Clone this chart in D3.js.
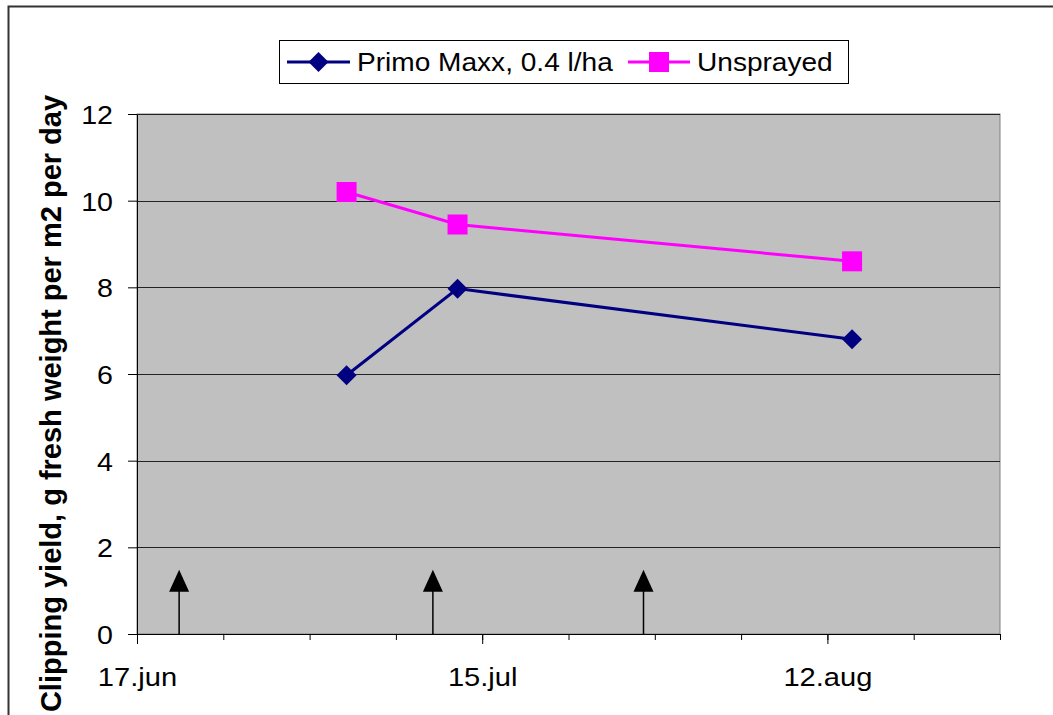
<!DOCTYPE html>
<html>
<head>
<meta charset="utf-8">
<script src="https://cdn.jsdelivr.net/npm/d3@7"></script>
<style>
  html, body { margin: 0; padding: 0; background: #fff; }
  svg { display: block; }
  text { font-family: "Liberation Sans", Arial, sans-serif; fill: #000; }
</style>
</head>
<body>
<svg id="chart" width="1053" height="715"></svg>
<script>
// ---- data ----
const seriesNames = ["Primo Maxx, 0.4 l/ha", "Unsprayed"];
const sampleDates = ["2008-07-04", "2008-07-13", "2008-08-14"];
const primoMaxx = [5.97, 7.97, 6.8];
const unsprayed = [10.2, 9.45, 8.6];
const sprayDates = ["2008-06-20T10:00", "2008-07-11T00:00", "2008-07-28T02:00"];
const arrowValue = 1.48;
const xTickDates = ["2008-06-17", "2008-07-15", "2008-08-12"];
const xTickLabels = ["17.jun", "15.jul", "12.aug"];
const xDomain = ["2008-06-17", "2008-08-26"];
const yTicks = [0, 2, 4, 6, 8, 10, 12];
const yTitle = "Clipping yield, g fresh weight per m2 per day";

const parse = s => new Date(s.length === 10 ? s + "T00:00Z" : s + "Z");

const svg = d3.select("#chart");
const L = 137, R = 1000, T = 114, B = 634;

const x = d3.scaleUtc().domain(xDomain.map(parse)).range([L, R]);
const y = d3.scaleLinear().domain([0, 12]).range([B, T]);

// outer border
svg.append("rect").attr("x", 8.5).attr("y", 6.5).attr("width", 1100).attr("height", 800)
  .attr("fill", "#fff").attr("stroke", "#333").attr("stroke-width", 2);

// plot area
svg.append("rect").attr("x", L).attr("y", T).attr("width", R - L).attr("height", B - T)
  .attr("fill", "#C0C0C0").attr("stroke", "#808080").attr("stroke-width", 1);

// grid
svg.append("g").selectAll("line").data(yTicks.filter(d => d > 0)).join("line")
  .attr("x1", L).attr("x2", R)
  .attr("y1", d => Math.round(y(d)) + 0.5).attr("y2", d => Math.round(y(d)) + 0.5)
  .attr("stroke", "#222").attr("stroke-width", 1);

// x axis minor ticks
const start = parse(xDomain[0]);
const minorDates = d3.range(0, 71, 7).map(d => d3.utcDay.offset(start, d));
const xMinor = svg.append("g").attr("transform", `translate(0,${B})`)
  .call(d3.axisBottom(x).tickValues(minorDates).tickSize(6).tickFormat(""));
xMinor.select(".domain").remove();

const xFmt = d => xTickLabels[xTickDates.findIndex(s => +parse(s) === +d)];
const xAxis = svg.append("g").attr("transform", `translate(0,${B})`)
  .call(d3.axisBottom(x).tickValues(xTickDates.map(parse)).tickSize(10).tickSizeOuter(0).tickFormat(xFmt));
xAxis.selectAll("text").attr("y", 0).attr("dy", null).attr("transform", "translate(0,52) scale(1.12,1)")
  .style("font-size", "26px").attr("font-family", null);

// y axis
const yAxis = svg.append("g").attr("transform", `translate(${L},0)`)
  .call(d3.axisLeft(y).tickValues(yTicks).tickSize(9).tickSizeOuter(0).tickFormat(d3.format("d")));
yAxis.selectAll("text").attr("x", 0).attr("dy", null).attr("y", 0)
  .attr("transform", "translate(-24,9.5) scale(1.1,1)")
  .style("font-size", "26px").attr("font-family", null);
svg.selectAll(".domain").attr("stroke", "#000");
svg.selectAll(".tick line").attr("stroke", "#000");

// y title
svg.append("text").attr("transform", "translate(60.5,403.5) rotate(-90)")
  .attr("text-anchor", "middle").style("font-size", "29px").style("font-weight", "bold")
  .text(yTitle);

// arrows
const arrows = svg.append("g");
sprayDates.forEach(s => {
  const ax = x(parse(s)), ay = y(arrowValue);
  arrows.append("line").attr("x1", ax).attr("x2", ax).attr("y1", B).attr("y2", ay + 20)
    .attr("stroke", "#000").attr("stroke-width", 1.5);
  arrows.append("path").attr("d", `M${ax},${ay} L${ax + 10},${ay + 22} L${ax - 10},${ay + 22} Z`)
    .attr("fill", "#000");
});

// series
const dates = sampleDates.map(parse);
const line = d3.line().x(d => x(d[0])).y(d => y(d[1]));
const series = [
  { name: seriesNames[0], values: primoMaxx, color: "#000080", shape: "diamond" },
  { name: seriesNames[1], values: unsprayed, color: "#FF00FF", shape: "square" }
];
function marker(g, shape, color) {
  if (shape === "diamond") {
    g.append("path").attr("d", d3.symbol(d3.symbolSquare, 200)()).attr("transform", "rotate(45)").attr("fill", color);
  } else {
    g.append("path").attr("d", d3.symbol(d3.symbolSquare, 400)()).attr("fill", color);
  }
}
series.forEach(s => {
  const pts = dates.map((d, i) => [d, s.values[i]]);
  svg.append("path").datum(pts).attr("d", line).attr("fill", "none")
    .attr("stroke", s.color).attr("stroke-width", 3);
  pts.forEach(p => {
    const g = svg.append("g").attr("transform", `translate(${x(p[0])},${y(p[1])})`);
    marker(g, s.shape, s.color);
  });
});

// legend
svg.append("rect").attr("x", 279.5).attr("y", 40.5).attr("width", 569).attr("height", 43)
  .attr("fill", "#fff").attr("stroke", "#000").attr("stroke-width", 1);
const legendX = [[287, 350, 357], [628, 690, 697]];
series.forEach((s, i) => {
  const [x1, x2, tx] = legendX[i];
  svg.append("line").attr("x1", x1).attr("x2", x2).attr("y1", 62).attr("y2", 62)
    .attr("stroke", s.color).attr("stroke-width", 3);
  const g = svg.append("g").attr("transform", `translate(${(x1 + x2) / 2},62)`);
  marker(g, s.shape, s.color);
  svg.append("text").attr("transform", `translate(${tx},71) scale(1.08,1)`)
    .style("font-size", "26px").text(s.name);
});
</script>
</body>
</html>
